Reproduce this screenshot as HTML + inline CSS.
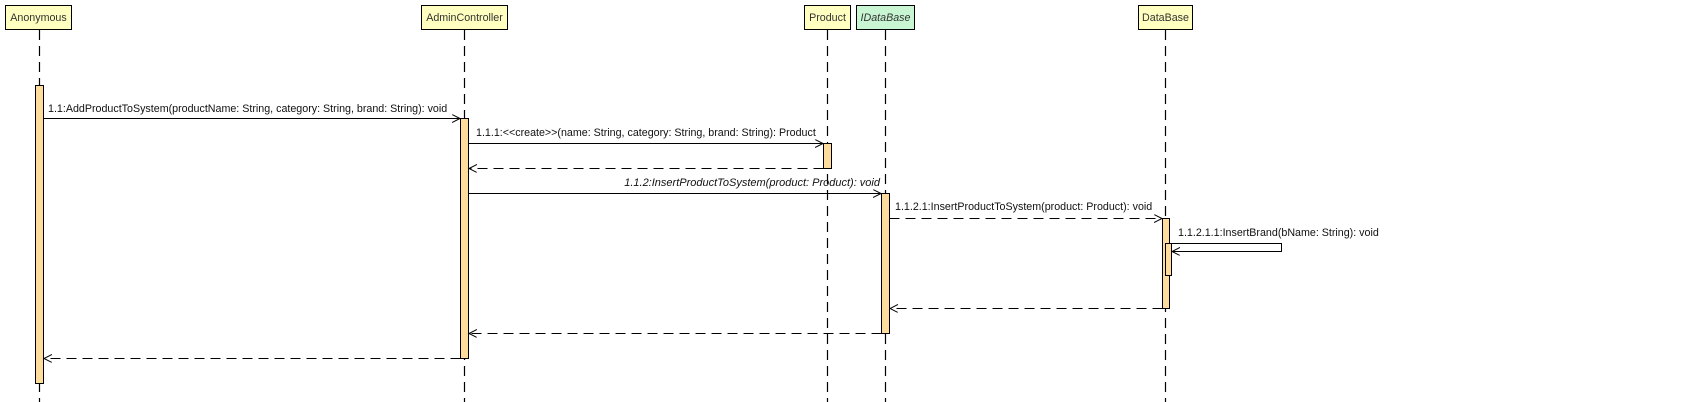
<!DOCTYPE html>
<html><head><meta charset="utf-8"><style>
html,body{margin:0;padding:0;background:#fff;}
svg{display:block;font-family:"Liberation Sans",Arial,sans-serif;font-size:10.7px;}
</style></head><body>
<svg width="1681" height="402" viewBox="0 0 1681 402" xmlns="http://www.w3.org/2000/svg">
<defs>
<marker id="a" markerWidth="10" markerHeight="10" refX="8" refY="4" orient="auto" markerUnits="userSpaceOnUse"><path d="M0,0 L8,4 L0,8" fill="none" stroke="#000" stroke-width="1"/></marker>
</defs>
<g stroke="#000" stroke-width="1.2" stroke-dasharray="10,6" fill="none">
<line x1="39.5" y1="30" x2="39.5" y2="402"/>
<line x1="464.5" y1="30" x2="464.5" y2="402"/>
<line x1="827.5" y1="30" x2="827.5" y2="402"/>
<line x1="885.5" y1="30" x2="885.5" y2="402"/>
<line x1="1165.5" y1="30" x2="1165.5" y2="402"/>
</g>
<g stroke="#000" stroke-width="1">
<rect x="5.5" y="5.5" width="66" height="24" fill="#ffffc0"/>
<rect x="421.5" y="5.5" width="86" height="24" fill="#ffffc0"/>
<rect x="804.5" y="5.5" width="46" height="24" fill="#ffffc0"/>
<rect x="856.5" y="5.5" width="58" height="24" fill="#c8f5d2"/>
<rect x="1138.5" y="5.5" width="54" height="24" fill="#ffffc0"/>
</g>
<g fill="#333" text-anchor="middle">
<text x="38.5" y="21">Anonymous</text>
<text x="464.5" y="21">AdminController</text>
<text x="827.5" y="21">Product</text>
<text x="885.5" y="21" font-style="italic">IDataBase</text>
<text x="1165.5" y="21">DataBase</text>
</g>
<g stroke="#000" stroke-width="1" fill="#fedc9e">
<rect x="35.5" y="85.5" width="8" height="298"/>
<rect x="460.5" y="118.5" width="8" height="240"/>
<rect x="823.5" y="143.5" width="8" height="25"/>
<rect x="881.5" y="193.5" width="8" height="140"/>
<rect x="1162.5" y="218.5" width="7" height="90"/>
<rect x="1165.5" y="243.5" width="6" height="32"/>
</g>
<g stroke="#000" stroke-width="1" fill="none">
<line x1="43.5" y1="118.5" x2="460" y2="118.5" marker-end="url(#a)"/>
<line x1="468.5" y1="143.5" x2="823" y2="143.5" marker-end="url(#a)"/>
<line x1="823.5" y1="168.5" x2="469" y2="168.5" stroke-dasharray="10,6" marker-end="url(#a)"/>
<line x1="468.5" y1="193.5" x2="881" y2="193.5" marker-end="url(#a)"/>
<line x1="889.5" y1="218.5" x2="1162" y2="218.5" stroke-dasharray="10,6" marker-end="url(#a)"/>
<polyline points="1171.5,243.5 1281.5,243.5 1281.5,251.5 1172,251.5" marker-end="url(#a)"/>
<line x1="1162.5" y1="308.5" x2="890" y2="308.5" stroke-dasharray="10,6" marker-end="url(#a)"/>
<line x1="881.5" y1="333.5" x2="469" y2="333.5" stroke-dasharray="10,6" marker-end="url(#a)"/>
<line x1="460.5" y1="358.5" x2="44" y2="358.5" stroke-dasharray="10,6" marker-end="url(#a)"/>
</g>
<g fill="#111">
<text x="48" y="112">1.1:AddProductToSystem(productName: String, category: String, brand: String): void</text>
<text x="476" y="136">1.1.1:&lt;&lt;create&gt;&gt;(name: String, category: String, brand: String): Product</text>
<text x="880" y="186" text-anchor="end" font-style="italic" font-size="11">1.1.2:InsertProductToSystem(product: Product): void</text>
<text x="895" y="210">1.1.2.1:InsertProductToSystem(product: Product): void</text>
<text x="1178" y="236">1.1.2.1.1:InsertBrand(bName: String): void</text>
</g>
</svg>
</body></html>
